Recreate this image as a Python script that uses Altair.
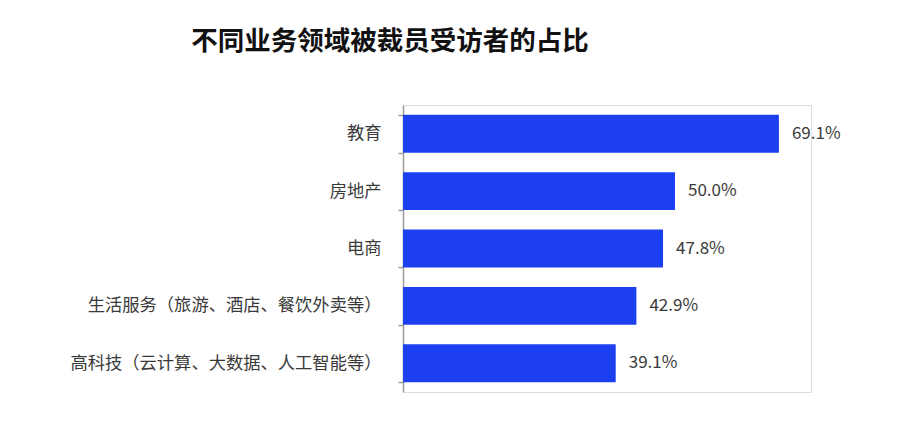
import altair as alt
import pandas as pd

categories = ["教育", "房地产", "电商", "生活服务（旅游、酒店、餐饮外卖等）", "高科技（云计算、大数据、人工智能等）"]
values = [69.1, 50.0, 47.8, 42.9, 39.1]
labels = ["69.1%", "50.0%", "47.8%", "42.9%", "39.1%"]

df = pd.DataFrame({"cat": categories, "val": values, "lab": labels})

FONT = "Noto Sans CJK SC"

y = alt.Y("cat:N", sort=categories, title=None,
          scale=alt.Scale(paddingInner=0.34, paddingOuter=0.17),
          axis=alt.Axis(domainColor="#9a9a9a", domainWidth=1.5, tickColor="#9a9a9a",
                        tickWidth=1.5, tickSize=5, tickBand="extent",
                        labelFont=FONT, labelFontSize=17.3, labelColor="#3a3a3a",
                        labelPadding=17, labelLimit=400))
x = alt.X("val:Q", title=None, scale=alt.Scale(domain=[0, 75]), axis=None)

bars = alt.Chart(df).mark_bar(color="#1c40f0").encode(x=x, y=y)
text = alt.Chart(df).mark_text(align="left", dx=13, font=FONT, fontSize=17,
                               color="#3a3a3a").encode(x=x, y=y, text="lab:N")

chart = (bars + text).properties(
    width=408, height=287,
    title=alt.TitleParams("不同业务领域被裁员受访者的占比", font=FONT, fontSize=26.5,
                          fontWeight="bold", color="#111111", anchor="middle",
                          dx=-217, offset=41),
    autosize=alt.AutoSizeParams(type="none"),
    padding={"left": 395, "top": 97, "right": 90, "bottom": 20},
).configure_view(stroke=None).configure(background="white")

chart.save("out.html", embed_options={"renderer": "svg", "actions": False})
